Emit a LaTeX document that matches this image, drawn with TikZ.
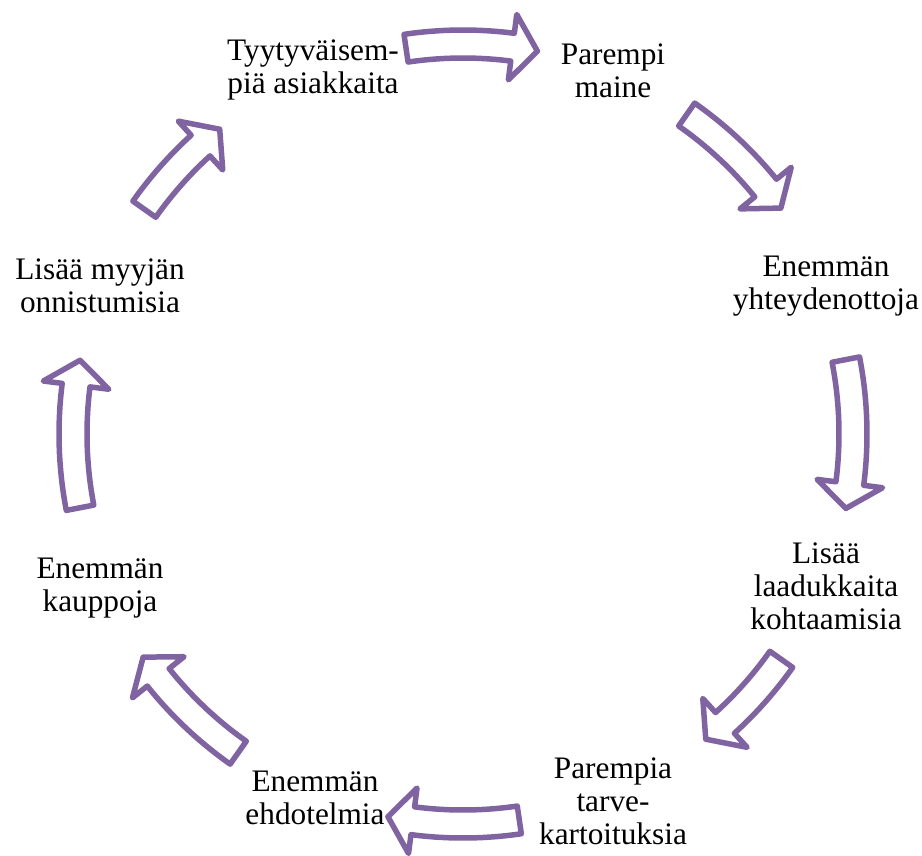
\documentclass[tikz,border=0pt]{standalone}
\usepackage{fontspec}
\setmainfont{Liberation Serif}
\definecolor{cycpurple}{RGB}{128,100,162}
\tikzset{
  cycarr/.style={draw=cycpurple, fill=white, line width=5.5pt, line join=round},
  cyctext/.style={align=center, font=\fontsize{31.3}{32.8}\selectfont, text=black, inner sep=0pt}
}
\newcommand{\cycarrow}[2]{%
  \pgfmathsetmacro{\ta}{#1}\pgfmathsetmacro{\tb}{#2}\pgfmathsetmacro{\tm}{#2-3.7}%
  \draw[cycarr] plot[domain=\ta:\tm,samples=24] ({463+404*sin(\x)},{434-404*cos(\x)})
    -- ({463+423*sin(\tm)},{434-423*cos(\tm)})
    -- ({463+390*sin(\tb)},{434-390*cos(\tb)})
    -- ({463+357*sin(\tm)},{434-357*cos(\tm)})
    -- plot[domain=\tm:\ta,samples=24] ({463+376*sin(\x)},{434-376*cos(\x)})
    -- cycle;}
\begin{document}
\begin{tikzpicture}[x=1pt,y=-1pt]
\useasboundingbox (0,0) rectangle (922,855);
% arrows
\cycarrow{-8.4}{11}
\cycarrow{35}{54.6}
\cycarrow{79}{101}
\cycarrow{125.3}{141.5}
\cycarrow{171.7}{191.1}
\cycarrow{215.2}{235.1}
\cycarrow{259.1}{280.9}
\cycarrow{305.2}{321.4}
% texts
\node[cyctext] (t1) at (313,70) {Tyytyväisem-\\piä asiakkaita};
\node[cyctext] (t2) at (613,71) {Parempi\\maine};
\node[cyctext] (t3) at (826,286) {Enemmän\\yhteydenottoja};
\node[cyctext] (t4) at (826,586) {Lisää\\laadukkaita\\kohtaamisia};
\node[cyctext] (t5) at (613,801) {Parempia\\tarve-\\kartoituksia};
\node[cyctext] (t6) at (315,798) {Enemmän\\ehdotelmia};
\node[cyctext] (t7) at (100,588) {Enemmän\\kauppoja};
\node[cyctext] (t8) at (100,286) {Lisää myyjän\\onnistumisia};
\end{tikzpicture}
\end{document}
